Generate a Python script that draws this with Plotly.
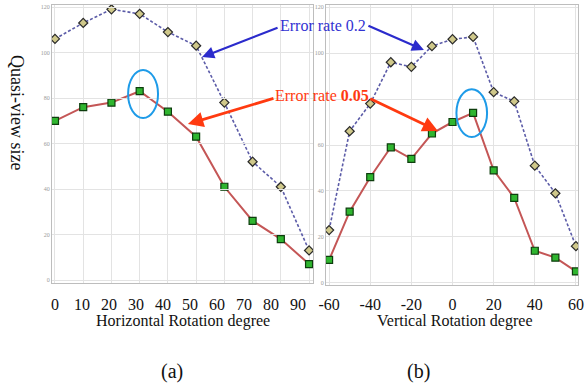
import plotly.graph_objects as go

W, H = 587, 385

# ---- data ----
h_deg = [0, 10, 20, 30, 40, 50, 60, 70, 80, 90]
h_err02 = [106, 113, 119, 117, 109, 103, 78, 52, 41, 13]
h_err005 = [70, 76, 78, 83, 74, 63, 41, 26, 18, 7]

v_deg = [-60, -50, -40, -30, -20, -10, 0, 10, 20, 30, 40, 50, 60]
v_err02 = [23, 66, 78, 96, 94, 103, 106, 107, 83, 79, 51, 39, 16]
v_err005 = [10, 31, 46, 59, 54, 65, 70, 74, 49, 37, 14, 11, 5]

h_ticks = [0, 10, 20, 30, 40, 50, 60, 70, 80, 90]
v_ticks = [-60, -40, -20, 0, 20, 40, 60]
v_ticklabels = ["-60", "-40", "-20", "0", "20", "40", "60"]
y_ticks = [0, 20, 40, 60, 80, 100, 120]
# in panel (b) the "80" label is hidden under the red annotation text
y2_ticklabels = ["0", "20", "40", "60", "", "100", "120"]

SERIF = "Liberation Serif, Times New Roman, serif"
BLUE_LINE = "#5c5ca8"
RED_LINE = "#c45656"
BLUE_TXT = "#3232d2"
RED_TXT = "#ff3a10"
ELL = "#1e9be8"


def px(x):
    return x / W


def py(y):
    return 1 - y / H


fig = go.Figure()

blue_marker = dict(symbol="diamond", size=7, color="#cfc88a",
                   line=dict(color="#2a2a2a", width=1.2))
red_marker = dict(symbol="square", size=7, color="#2fb52f",
                  line=dict(color="#0d3d0d", width=1.2))

for xa, ya, xs, b, r in [("x", "y", h_deg, h_err02, h_err005),
                         ("x2", "y2", v_deg, v_err02, v_err005)]:
    fig.add_trace(go.Scatter(x=xs, y=b, xaxis=xa, yaxis=ya, mode="lines+markers",
                             line=dict(color=BLUE_LINE, width=1.6, dash="3px,2px"),
                             marker=blue_marker, showlegend=False))
    fig.add_trace(go.Scatter(x=xs, y=r, xaxis=xa, yaxis=ya, mode="lines+markers",
                             line=dict(color=RED_LINE, width=2),
                             marker=red_marker, showlegend=False))

# helper trace for the separately spaced tick labels of panel (a)
fig.add_trace(go.Scatter(x=[h_ticks[0], h_ticks[-1]], y=[None, None],
                         xaxis="x3", yaxis="y", mode="lines", showlegend=False,
                         hoverinfo="skip"))

grid = "#e3e3e3"
frame = "#bdbdbd"
ytick_font = dict(family=SERIF, size=6, color="#9a9a9a")
xtick_font = dict(family=SERIF, size=16, color="#111111")

fig.update_layout(
    width=W, height=H, margin=dict(l=0, r=0, t=0, b=0, autoexpand=False),
    paper_bgcolor="white", plot_bgcolor="rgba(0,0,0,0)",
    xaxis=dict(domain=[px(52), px(313)], range=[-1.06, 91.4],
               tickvals=h_ticks, showticklabels=False, showgrid=True,
               gridcolor=grid, zeroline=False, showline=True, mirror=True,
               linecolor=frame, linewidth=1, anchor="y", automargin=False),
    yaxis=dict(domain=[py(283), py(5)], range=[-1.3, 120.9],
               tickvals=y_ticks, tickfont=ytick_font, showgrid=True,
               gridcolor=grid, zeroline=False, showline=True, mirror=True,
               linecolor=frame, linewidth=1, anchor="x", automargin=False),
    xaxis2=dict(domain=[px(326), px(578)], range=[-61.5, 61],
                tickvals=v_ticks, ticktext=v_ticklabels, tickfont=xtick_font,
                ticks="outside", ticklen=5, tickcolor="rgba(0,0,0,0)", showgrid=True,
                gridcolor=grid, zeroline=False, showline=True, mirror=True,
                linecolor=frame, linewidth=1, anchor="y2", automargin=False),
    yaxis2=dict(domain=[py(285), py(5)], range=[-0.9, 120.9],
                tickvals=y_ticks, ticktext=y2_ticklabels, tickfont=ytick_font,
                showgrid=True, gridcolor=grid, zeroline=False, showline=True,
                mirror=True, linecolor=frame, linewidth=1, anchor="x2",
                automargin=False),
    xaxis3=dict(domain=[px(55), px(298)], range=[h_ticks[0], h_ticks[-1]],
                tickvals=h_ticks, tickfont=xtick_font, ticks="outside",
                ticklen=7, tickcolor="rgba(0,0,0,0)", showgrid=False,
                zeroline=False, showline=False, anchor="free",
                position=py(283), automargin=False),
)

# ellipses marking the peaks
fig.add_shape(type="circle", xref="x", yref="y", x0=25.9, x1=36.5, y0=71.2, y1=92.3,
              line=dict(color=ELL, width=2))
fig.add_shape(type="circle", xref="x2", yref="y2", x0=1.9, x1=16.8, y0=63.5, y1=84.3,
              line=dict(color=ELL, width=2))

# arrows (head at data coordinates, tail offset in pixels)
def arrow(x, y, xref, yref, ax, ay, color, width):
    fig.add_annotation(x=x, y=y, xref=xref, yref=yref, ax=ax, ay=ay, text="",
                       showarrow=True, arrowhead=2, arrowsize=1.1,
                       arrowwidth=width, arrowcolor=color)

arrow(52.1, 98.0, "x", "y", 279 - 202, 27 - 57, "#2b2bcc", 2.2)
arrow(-13.9, 101.3, "x2", "y2", 367 - 424, 25 - 50, "#2b2bcc", 2.2)
arrow(47.1, 68.6, "x", "y", 275 - 188, 98 - 124, "#ff3a10", 2.8)
arrow(-7.1, 66.1, "x2", "y2", 369 - 438, 98 - 131, "#ff3a10", 2.8)


def label(x, y, text, size, color="#111111", angle=0):
    fig.add_annotation(x=px(x), y=py(y), xref="paper", yref="paper", showarrow=False,
                       xanchor="center", yanchor="middle", text=text, textangle=angle,
                       font=dict(family=SERIF, size=size, color=color))


label(323, 25, "Error rate 0.2", 16, BLUE_TXT)
label(321.5, 96, "Error rate <b>0.05</b>", 16, RED_TXT)
label(17, 112, "Quasi-view size", 18, angle=90)
label(182.5, 321, "Horizontal Rotation degree", 16)
label(455, 321, "Vertical Rotation degree", 16)
label(172, 371, "(a)", 20)
label(418, 371, "(b)", 20)

fig.write_html("out.html", config={"displayModeBar": False},
               post_script="document.body.style.margin='0';")
